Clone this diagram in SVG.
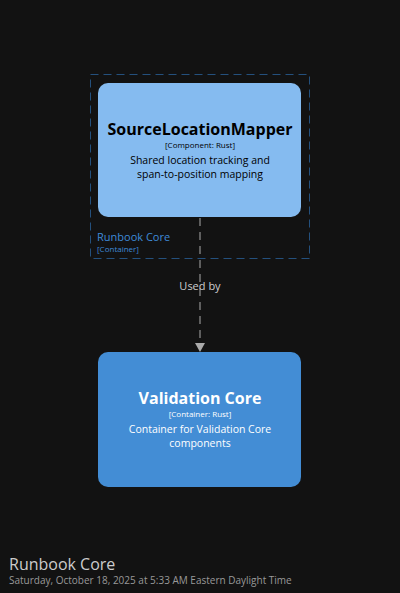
<svg xmlns="http://www.w3.org/2000/svg" width="400" height="593" viewBox="0 0 400 593">
<style>
text{font-family:"Open Sans","Noto Sans","DejaVu Sans",sans-serif;}
.t{font-weight:bold;font-size:16px;text-anchor:middle;}
.s{font-size:8px;text-anchor:middle;}
.d{font-size:10.5px;text-anchor:middle;}
</style>
<rect width="400" height="593" fill="#121212"/>
<g id="boundary-runbook-core">
<rect x="90.5" y="74.5" width="219" height="184" fill="none" stroke="#24507d" stroke-width="1" stroke-dasharray="8,5"/>
<text x="97" y="241" font-size="11" fill="#3f8ad8">Runbook Core</text>
<text x="97" y="252" font-size="8" fill="#3f8ad8">[Container]</text>
</g>
<g id="connectors">
<line x1="200" y1="218" x2="200" y2="343" stroke="#aaaaaa" stroke-width="1" stroke-dasharray="8,6"/>
<path d="M195,343 L205,343 L200,352 Z" fill="#aaaaaa"/>
<text x="200" y="290" font-size="11" fill="#cccccc" text-anchor="middle">Used by</text>
</g>
<g id="SourceLocationMapper">
<rect x="98" y="83" width="203" height="134" rx="10" fill="#85bbf0"/>
<text class="t" x="200" y="135" fill="#000">SourceLocationMapper</text>
<text class="s" x="200" y="148" fill="#000">[Component: Rust]</text>
<text class="d" x="200" y="163.5" fill="#000">Shared location tracking and</text>
<text class="d" x="200" y="177.5" fill="#000">span-to-position mapping</text>
</g>
<g id="ValidationCore">
<rect x="98" y="352" width="203" height="135" rx="10" fill="#438dd5"/>
<text class="t" x="200" y="404" fill="#fff">Validation Core</text>
<text class="s" x="200" y="417" fill="#fff">[Container: Rust]</text>
<text class="d" x="200" y="432.5" fill="#fff">Container for Validation Core</text>
<text class="d" x="200" y="446.5" fill="#fff">components</text>
</g>
<g id="footer">
<text x="9" y="570" font-size="16" fill="#cccccc">Runbook Core</text>
<text x="9" y="584" font-size="10" fill="#999999">Saturday, October 18, 2025 at 5:33 AM Eastern Daylight Time</text>
</g>
</svg>
